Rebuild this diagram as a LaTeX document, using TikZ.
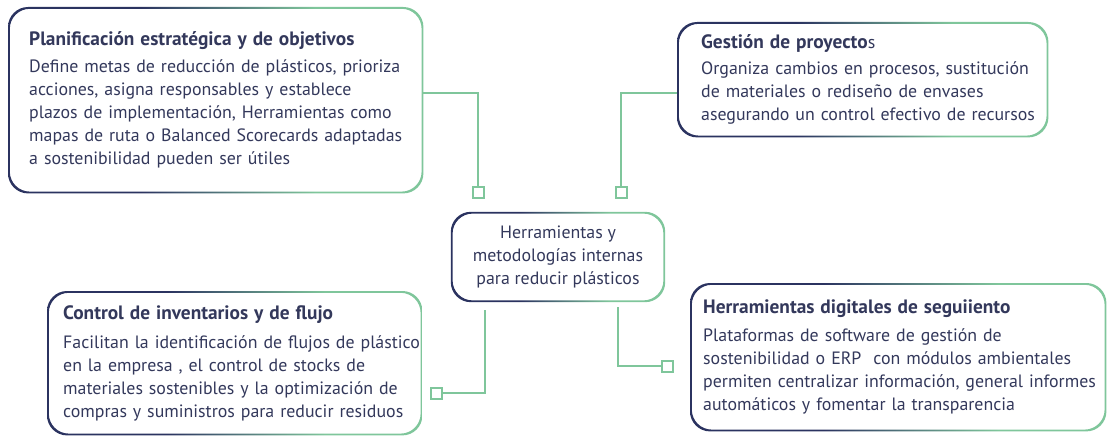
\documentclass[tikz,border=0pt]{standalone}
\usepackage{fontspec}
\setmainfont{PT Sans}
\definecolor{navy}{HTML}{2B3360}
\definecolor{mint}{HTML}{7FC69B}
\definecolor{ink}{HTML}{33385B}
\pgfdeclarehorizontalshading{bordergrad}{100bp}{color(0bp)=(navy); color(41bp)=(navy); color(62bp)=(mint); color(100bp)=(mint)}
\newlength\reflen
\newcommand\gradbox[1]{%
  \shade[shading=bordergrad, even odd rule, rounded corners=20pt]
    (#1.north west) rectangle (#1.south east)
    ([xshift=1.8pt,yshift=-1.8pt]#1.north west) rectangle ([xshift=-1.8pt,yshift=1.8pt]#1.south east);}
\begin{document}
\settowidth{\reflen}{\fontsize{10}{12}\selectfont Define metas de reducción de plásticos, prioriza}%
\pgfmathsetmacro\bodysize{10*364/\reflen}%
\settowidth{\reflen}{\fontsize{10}{12}\selectfont\bfseries Planificación estratégica y de objetivos}%
\pgfmathsetmacro\titlesize{10*321/\reflen}%
\def\bodyfont{\fontsize{\bodysize}{23}\selectfont}%
\def\titlefont{\fontsize{\titlesize}{23}\selectfont\bfseries}%
\begin{tikzpicture}[x=1pt,y=-1pt,
  box/.style={anchor=north west, inner ysep=0pt, align=left, text=ink, font=\bodyfont},
  cbox/.style={inner sep=0pt, align=center, text=ink, font=\bodyfont},
  link/.style={draw=mint, line width=2pt},
  sq/.style={draw=mint, line width=2pt, fill=white, minimum size=11pt, inner sep=0pt}]
\useasboundingbox (0,0) rectangle (1111,436);

\node[box, minimum height=186pt, inner xsep=21pt, text width=373pt] (plan) at (8,7)
  {\mbox{\titlefont Planificación estratégica y de objetivos}\\[4pt]
   \mbox{Define metas de reducción de plásticos, prioriza}\\
   \mbox{acciones, asigna responsables y establece}\\
   \mbox{plazos de implementación, Herramientas como}\\
   \mbox{mapas de ruta o Balanced Scorecards adaptadas}\\
   \mbox{a sostenibilidad pueden ser útiles}};
\node[box, minimum height=115pt, inner xsep=24pt, text width=323pt] (gest) at (677,22)
  {\mbox{{\titlefont Gestión de proyecto}s}\\[3pt]
   \mbox{Organiza cambios en procesos, sustitución}\\
   \mbox{de materiales o rediseño de envases}\\
   \mbox{asegurando un control efectivo de recursos}};
\node[box, minimum height=144pt, inner xsep=16pt, text width=343pt] (inv) at (47,291)
  {\mbox{\titlefont Control de inventarios y de flujo}\\[6pt]
   \mbox{Facilitan la identificación de flujos de plástico}\\
   \mbox{en la empresa , el control de stocks de}\\
   \mbox{materiales sostenibles y la optimización de}\\
   \mbox{compras y suministros para reducir residuos}};
\node[box, minimum height=148pt, inner xsep=13pt, text width=390pt] (dig) at (690,283)
  {\mbox{\titlefont Herramientas digitales de seguiiento}\\[5pt]
   \mbox{Plataformas de software de gestión de}\\
   \mbox{sostenibilidad o ERP~ con módulos ambientales}\\
   \mbox{permiten centralizar información, general informes}\\
   \mbox{automáticos y fomentar la transparencia}};
\node[cbox, minimum width=214pt, minimum height=90pt] (c) at (558,257)
  {Herramientas y\\metodologías internas\\para reducir plásticos};

\gradbox{plan}
\gradbox{gest}
\gradbox{inv}
\gradbox{dig}
\gradbox{c}

\node[sq] (s1) at (478,192.5) {};
\node[sq] (s2) at (621,192.5) {};
\node[sq] (s3) at (436,393) {};
\node[sq] (s4) at (667,366) {};

\draw[link] ([yshift=7pt]plan.east) -| (s1.north);
\draw[link] ([yshift=-13.5pt]gest.west) -| (s2.north);
\draw[link] ([xshift=-73pt,yshift=-8pt]c.south) |- (s3.east);
\draw[link] ([xshift=60pt,yshift=-5pt]c.south) |- (s4.west);
\end{tikzpicture}
\end{document}
